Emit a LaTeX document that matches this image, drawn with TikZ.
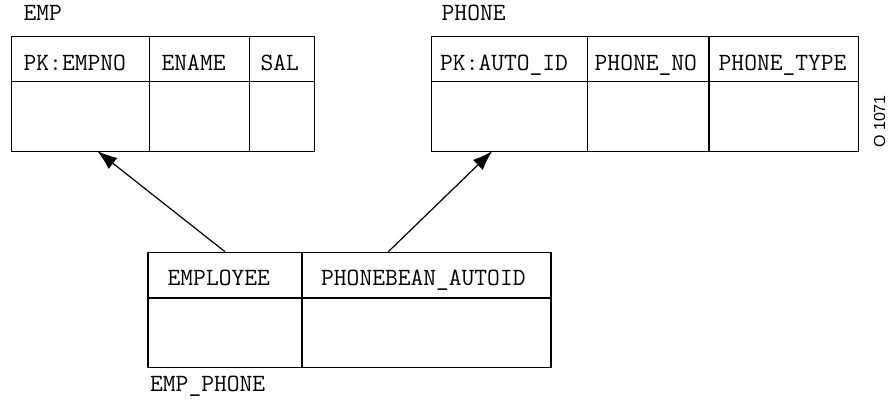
\documentclass[tikz,border=0pt]{standalone}
\usepackage{fontspec}
\newfontfamily\sansf{Liberation Sans}
\usetikzlibrary{arrows.meta}
\begin{document}
\begin{tikzpicture}[x=1pt,y=-1pt,
  cell/.style={draw, line width=1.3pt, inner sep=0pt, anchor=north west},
  txt/.style={inner sep=0pt, anchor=base west, font=\ttfamily\fontsize{24.8}{24.8}\selectfont},
  link/.style={line width=1.2pt, -{Latex[length=20pt,width=14pt]}}]
\useasboundingbox (0,0) rectangle (888,399);
% EMP table
\node[cell, minimum width=138pt, minimum height=45pt] (e1h) at (11,36) {};
\node[cell, minimum width=99.7pt, minimum height=45pt] (e2h) at (149,36) {};
\node[cell, minimum width=65.3pt, minimum height=45pt] (e3h) at (248.7,36) {};
\node[cell, minimum width=138pt, minimum height=70pt] (e1b) at (11,81) {};
\node[cell, minimum width=99.7pt, minimum height=70pt] (e2b) at (149,81) {};
\node[cell, minimum width=65.3pt, minimum height=70pt] (e3b) at (248.7,81) {};
\node[txt] (empl) at (23.5,20.5) {EMP};
\node[txt] (t1) at (23.5,70) {PK:EMPNO};
\node[txt] (t2) at (161.5,70) {ENAME};
\node[txt] (t3) at (260.5,70) {SAL};
% PHONE table
\node[cell, minimum width=155.7pt, minimum height=45pt] (p1h) at (431,36) {};
\node[cell, minimum width=121.6pt, minimum height=45pt] (p2h) at (586.7,36) {};
\node[cell, minimum width=149.4pt, minimum height=45pt] (p3h) at (708.3,36) {};
\node[cell, minimum width=155.7pt, minimum height=70pt] (p1b) at (431,81) {};
\node[cell, minimum width=121.6pt, minimum height=70pt] (p2b) at (586.7,81) {};
\node[cell, minimum width=149.4pt, minimum height=70pt] (p3b) at (708.3,81) {};
\node[txt] (phl) at (441.5,20.5) {PHONE};
\node[txt] (t4) at (440,70) {PK:AUTO\_ID};
\node[txt] (t5) at (594.5,70) {PHONE\_NO};
\node[txt] (t6) at (718.5,70) {PHONE\_TYPE};
% EMP_PHONE table
\node[cell, minimum width=154pt, minimum height=45.6pt] (j1h) at (147.3,251.7) {};
\node[cell, minimum width=249pt, minimum height=45.6pt] (j2h) at (301.3,251.7) {};
\node[cell, minimum width=154pt, minimum height=69.7pt] (j1b) at (147.3,297.3) {};
\node[cell, minimum width=249pt, minimum height=69.7pt] (j2b) at (301.3,297.3) {};
\node[txt] (t7) at (167.5,285.7) {EMPLOYEE};
\node[txt] (t8) at (321,285.7) {PHONEBEAN\_AUTOID};
\node[txt] (jl) at (150,391) {EMP\_PHONE};
% code
\node[rotate=90, inner sep=0pt, font=\sansf\fontsize{16}{16}\selectfont] (code) at (879.5,121.5) {O 1071};
% connectors
\coordinate (a1s) at (225,251.7);
\coordinate (a1e) at (97.3,151);
\coordinate (a2s) at (388.3,251.7);
\coordinate (a2e) at (492.3,151);
\draw[link] (a1s) -- (a1e);
\draw[link] (a2s) -- (a2e);
\end{tikzpicture}
\end{document}
